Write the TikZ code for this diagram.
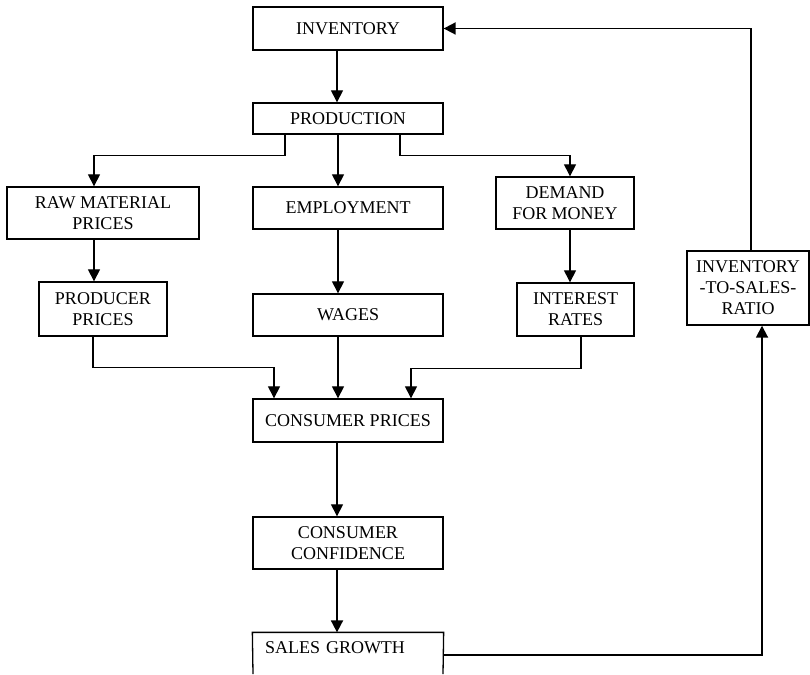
\documentclass[tikz,border=0pt]{standalone}
\usepackage{fontspec}
\setmainfont{Liberation Serif}
\usetikzlibrary{arrows.meta}
\begin{document}
\begin{tikzpicture}[x=1pt,y=-1pt,
  box/.style={draw, line width=1.3pt, align=center, inner sep=0pt,
    font=\fontsize{18}{21}\selectfont},
  arr/.style={line width=1.1pt, -{Triangle[width=12pt,length=12pt]}},
  harr/.style={line width=1.8pt, -{Triangle[width=12pt,length=12pt]}}]
\useasboundingbox (0,0) rectangle (810,674);
\node[box, minimum width=190pt, minimum height=43pt] (inv) at (348,28.5) {INVENTORY};
\node[box, minimum width=190pt, minimum height=31pt] (prod) at (348,118.5) {PRODUCTION};
\node[box, minimum width=192pt, minimum height=52pt] (raw) at (103,213) {RAW MATERIAL\\PRICES};
\node[box, minimum width=190pt, minimum height=42pt] (emp) at (348,208) {EMPLOYMENT};
\node[box, minimum width=138pt, minimum height=52pt] (dem) at (565,203) {DEMAND\\FOR MONEY};
\node[box, minimum width=128pt, minimum height=54pt] (pp) at (103,309) {PRODUCER\\PRICES};
\node[box, minimum width=190pt, minimum height=42pt] (wag) at (348,315) {WAGES};
\node[box, minimum width=117pt, minimum height=53pt] (ir) at (575.5,309.5) {INTEREST\\RATES};
\node[box, line width=1.4pt, minimum width=122pt, minimum height=74pt] (its) at (748,288) {INVENTORY\\-TO-SALES-\\RATIO};
\node[box, minimum width=190pt, minimum height=43pt] (cp) at (348,420.5) {CONSUMER PRICES};
\node[box, minimum width=190pt, minimum height=52pt] (cc) at (348,543) {CONSUMER\\CONFIDENCE};
\node[box, draw=none, minimum height=30pt, text width=166pt, inner xsep=12pt, align=left] (sg) at (348,648) {SALES GROWTH};
\coordinate (sgbl) at (253,674);
\coordinate (sgbr) at (443,674);
\draw[line width=1.3pt] (sgbl) -- (sg.north west) -- (sg.north east) -- (sgbr);
% connectors
\draw[arr] ([xshift=-11pt]inv.south) -- ([xshift=-11pt]prod.north);
\draw[arr] ([xshift=-63pt]prod.south) -- ++(0,21) -| ([xshift=-9pt]raw.north);
\draw[arr] ([xshift=-10pt]prod.south) -- ([xshift=-10pt]emp.north);
\draw[arr] ([xshift=52pt]prod.south) -- ++(0,21) -| ([xshift=5pt]dem.north);
\draw[arr] ([xshift=-9pt]raw.south) -- ([xshift=-9pt]pp.north);
\draw[arr] ([xshift=-10pt]emp.south) -- ([xshift=-10pt]wag.north);
\draw[arr] ([xshift=5pt]dem.south) -- ([xshift=-5.5pt]ir.north);
\draw[arr] ([xshift=-10pt]pp.south) -- ++(0,31) -| ([xshift=-74pt]cp.north);
\draw[arr] ([xshift=-10pt]wag.south) -- ([xshift=-10pt]cp.north);
\draw[arr] ([xshift=5.5pt]ir.south) -- ++(0,32) -| ([xshift=63pt]cp.north);
\draw[arr] ([xshift=-11pt]cp.south) -- ([xshift=-11pt]cc.north);
\draw[harr] ([xshift=-11pt]cc.south) -- ([xshift=-11pt]sg.north);
\draw[harr] ([yshift=-7pt]sg.east) -| ([xshift=14pt]its.south);
\draw[harr] ([xshift=3pt]its.north) |- (inv.east);
\end{tikzpicture}
\end{document}
